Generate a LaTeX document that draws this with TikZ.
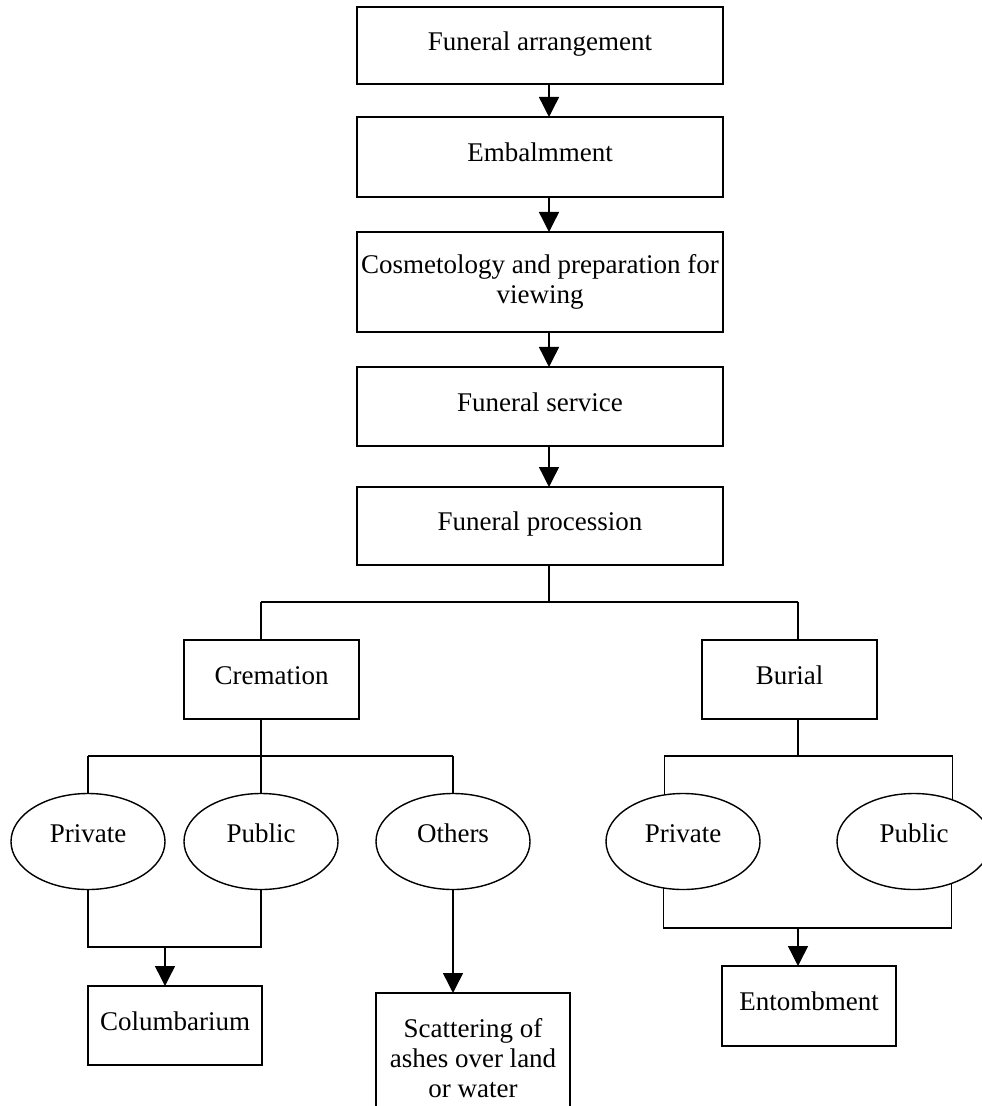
\documentclass[tikz,border=0pt]{standalone}
\usepackage{fontspec}
\setmainfont{Liberation Serif}
\usetikzlibrary{arrows.meta,shapes.geometric}
\tikzset{
  stepbox/.style={draw,rectangle,minimum height=39.5pt,inner sep=1pt,align=center,text height=0.68em,text depth=0.22em},
  oval/.style={draw,ellipse,minimum width=77pt,minimum height=48pt,inner sep=0pt},
  arr/.style={-{Triangle[width=10pt,length=10pt]}}
}
\begin{document}
\begin{tikzpicture}[x=0.5pt,y=-0.5pt,line width=0.7pt,outer sep=0pt,font=\fontsize{13.5}{15}\selectfont]
        \useasboundingbox (0,0) rectangle (981,1106);
        % main sequence
        \node[stepbox,minimum width=183pt,minimum height=38.5pt] (arrange) at (540,45.5) {Funeral arrangement};
        \node[stepbox,minimum width=183pt,minimum height=40pt] (embalm) at (540,157) {Embalmment};
        \node[draw,align=center,minimum width=183pt,minimum height=50pt,inner sep=1pt] (cosmo) at (540,282) {Cosmetology and preparation for\\viewing};
        \node[stepbox,minimum width=183pt] (service) at (540,406.5) {Funeral service};
        \node[stepbox,minimum width=183pt,minimum height=39pt] (procession) at (540,526) {Funeral procession};
        \draw[arr] ([xshift=4.5pt]arrange.south) -- ([xshift=4.5pt]embalm.north);
        \draw[arr] ([xshift=4.5pt]embalm.south) -- ([xshift=4.5pt]cosmo.north);
        \draw[arr] ([xshift=4.5pt]cosmo.south) -- ([xshift=4.5pt]service.north);
        \draw[arr] ([xshift=4.5pt]service.south) -- ([xshift=4.5pt]procession.north);
        % split into cremation / burial
        \node[stepbox,minimum width=87.5pt] (cremation) at (271.5,679.5) {Cremation};
        \node[stepbox,minimum width=87.5pt] (burial) at (789.5,679.5) {Burial};
        \coordinate (split) at (549,602);
        \coordinate (splitl) at (261,602);
        \coordinate (splitr) at (798,602);
        \draw ([xshift=4.5pt]procession.south) -- (split);
        \draw (splitl) -- (splitr);
        \draw (splitl) -- (splitl |- cremation.north);
        \draw (splitr) -- (splitr |- burial.north);
        % cremation options
        \node[oval,label={[yshift=4pt]center:Private}] (cprivate) at (88,841.5) {};
        \node[oval,label={[yshift=4pt]center:Public}] (cpublic) at (261,841.5) {};
        \node[oval,label={[yshift=4pt]center:Others}] (cothers) at (453,841.5) {};
        \coordinate (cjoin) at (261,756);
        \draw (cjoin |- cremation.south) -- (cjoin);
        \draw (cprivate.north |- cjoin) -- (cothers.north |- cjoin);
        \draw (cprivate.north |- cjoin) -- (cprivate.north);
        \draw (cjoin) -- (cpublic.north);
        \draw (cothers.north |- cjoin) -- (cothers.north);
        % burial options
        \node[oval,label={[yshift=4pt]center:Private}] (bprivate) at (683,841.5) {};
        \node[oval,label={[yshift=4pt]center:Public}] (bpublic) at (914,841.5) {};
        \coordinate (bjoin) at (798,756);
        \draw (bjoin |- burial.south) -- (bjoin);
        \draw (bprivate.112.2 |- bjoin) -- (bpublic.47.7 |- bjoin);
        \draw (bprivate.112.2 |- bjoin) -- (bprivate.112.2);
        \draw (bpublic.47.7 |- bjoin) -- (bpublic.47.7);
        % final places
        \node[stepbox,minimum width=87pt] (columbarium) at (175,1025.5) {Columbarium};
        \node[draw,align=center,minimum width=97pt,minimum height=65pt,inner sep=1pt] (scatter) at (473,1058) {Scattering of\\ashes over land\\or water};
        \node[stepbox,minimum width=87pt,minimum height=40pt] (entomb) at (809,1006) {Entombment};
        \coordinate (cmerge) at (165,947);
        \draw (cprivate.south) |- (cpublic.south |- cmerge) -- (cpublic.south);
        \draw[arr] (cmerge) -- (cmerge |- columbarium.north);
        \draw[arr] (cothers.south) -- (cothers.south |- scatter.north);
        \coordinate (bmerge) at (798,928);
        \draw (bprivate.247.8) |- (bpublic.312.3 |- bmerge) -- (bpublic.312.3);
        \draw[arr] (bmerge) -- (bmerge |- entomb.north);
    \end{tikzpicture}
\end{document}
